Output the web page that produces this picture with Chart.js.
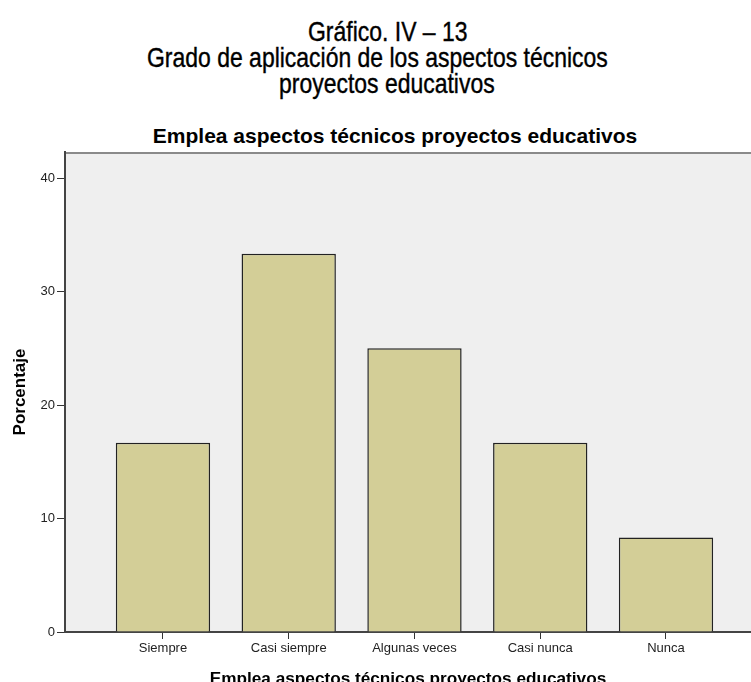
<!DOCTYPE html>
<html>
<head>
<meta charset="utf-8">
<script src="https://cdn.jsdelivr.net/npm/chart.js@4.4.0/dist/chart.umd.min.js"></script>
<style>
  html, body { margin: 0; padding: 0; background: #fff; overflow: hidden; }
  #wrap { position: relative; width: 751px; height: 682px; overflow: hidden; }
  .tit { position: absolute; font-family: "Liberation Sans", Arial, sans-serif;
         font-size: 28px; line-height: 28px; color: #000; white-space: nowrap;
         transform: scaleX(0.82); transform-origin: left top; -webkit-text-stroke: 0.4px #000; }
  #sub { position: absolute; left: 0; width: 790px; text-align: center; top: 125px;
         font-family: "Liberation Sans", Arial, sans-serif; font-weight: bold;
         font-size: 21px; line-height: 21px; color: #000; white-space: nowrap; }
  canvas { position: absolute; left: 0; top: 0; }
</style>
</head>
<body>
<div id="wrap">
  <div class="tit" style="left:308px; top:18px;">Gráfico. IV – 13</div>
  <div class="tit" style="left:147px; top:44px;">Grado de aplicación de los aspectos técnicos</div>
  <div class="tit" style="left:279px; top:70px;">proyectos educativos</div>
  <div id="sub">Emplea aspectos técnicos proyectos educativos</div>
  <canvas id="grafico" width="751" height="700" style="width:751px;height:700px"></canvas>
</div>
<script>
// datos del gráfico
const categorias = ['Siempre', 'Casi siempre', 'Algunas veces', 'Casi nunca', 'Nunca'];
const porcentajes = [16.67, 33.33, 25.0, 16.67, 8.33];
const marcasY = [0, 10, 20, 30, 40];

// fondo gris del área y línea superior
const fondoArea = {
  id: 'fondoArea',
  beforeDraw(chart) {
    const { ctx, chartArea: a } = chart;
    ctx.save();
    ctx.fillStyle = '#efefef';
    ctx.fillRect(a.left, a.top, a.right - a.left, a.bottom - a.top);
    ctx.strokeStyle = '#8a8a8a';
    ctx.lineWidth = 2;
    ctx.beginPath();
    ctx.moveTo(a.left, a.top + 1);
    ctx.lineTo(a.right, a.top + 1);
    ctx.stroke();
    ctx.restore();
  }
};

const ctx = document.getElementById('grafico').getContext('2d');
new Chart(ctx, {
  type: 'bar',
  data: {
    datasets: [{
      data: categorias.map((c, i) => ({ x: i, y: porcentajes[i] })),
      backgroundColor: '#d3ce97',
      borderColor: '#222',
      borderWidth: 1.5,
      categoryPercentage: 1,
      barPercentage: 0.75
    }]
  },
  options: {
    responsive: false,
    animation: false,
    layout: { padding: { top: 152, right: 0, left: 0, bottom: 0 } },
    plugins: { legend: { display: false }, tooltip: { enabled: false } },
    scales: {
      x: {
        type: 'linear',
        min: -0.779,
        max: 4.676,
        offset: false,
        afterFit(scale) { scale.height = 68; },
        afterBuildTicks(scale) { scale.ticks = categorias.map((c, i) => ({ value: i })); },
        grid: { offset: false, drawOnChartArea: false, drawTicks: true, tickLength: 7, color: '#333', lineWidth: 1 },
        border: { color: '#444', width: 2 },
        ticks: {
          autoSkip: false, maxRotation: 0, padding: 2, color: '#222',
          font: { family: '"Liberation Sans", Arial, sans-serif', size: 13 },
          callback: (v) => categorias[v]
        },
        title: {
          display: true, text: 'Emplea aspectos técnicos proyectos educativos', color: '#000',
          font: { family: '"Liberation Sans", Arial, sans-serif', size: 17.2, weight: 'bold' },
          padding: { top: 0, bottom: 10 }
        }
      },
      y: {
        min: 0,
        max: 42.3,
        afterFit(scale) { scale.width = 65; },
        afterBuildTicks(scale) { scale.ticks = marcasY.map(v => ({ value: v })); },
        grid: { drawOnChartArea: false, drawTicks: true, tickLength: 8, color: '#333', lineWidth: 1 },
        border: { color: '#444', width: 2 },
        ticks: {
          padding: 2, color: '#222',
          font: { family: '"Liberation Sans", Arial, sans-serif', size: 13 }
        },
        title: {
          display: true, text: 'Porcentaje', color: '#000',
          font: { family: '"Liberation Sans", Arial, sans-serif', size: 17, weight: 'bold' },
          padding: { top: 10, bottom: 0 }
        }
      }
    }
  },
  plugins: [fondoArea]
});
</script>
</body>
</html>
